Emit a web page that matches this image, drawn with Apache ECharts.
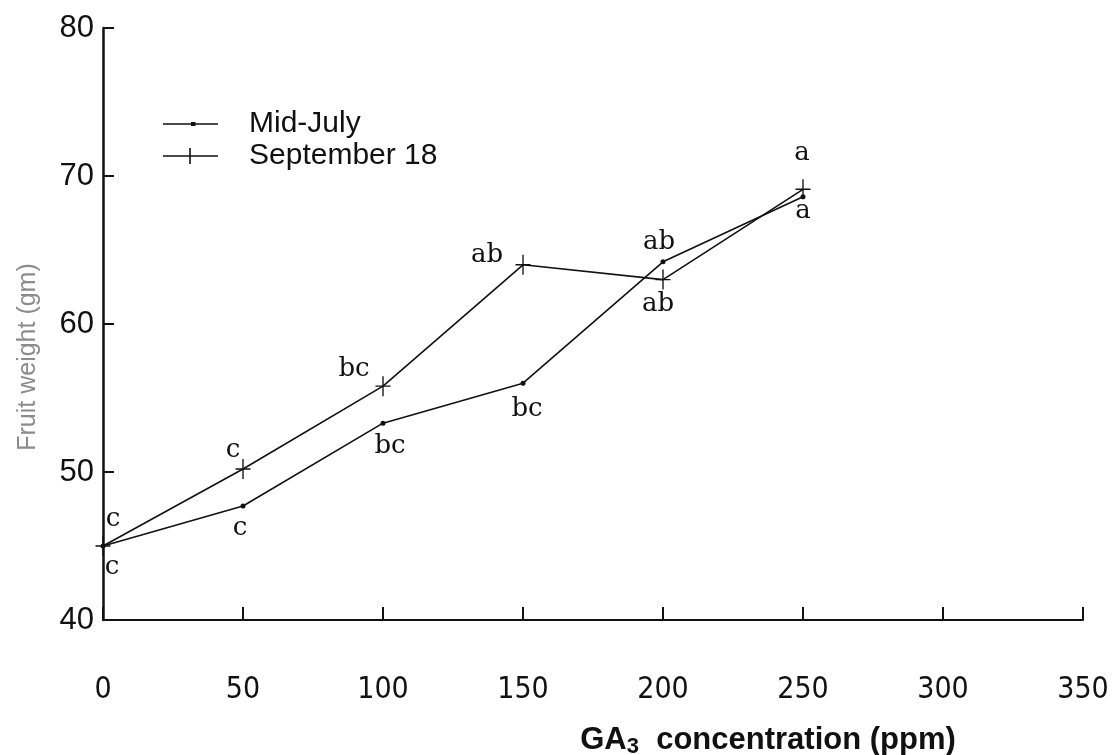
<!DOCTYPE html>
<html>
<head>
<meta charset="utf-8">
<script src="https://cdn.jsdelivr.net/npm/echarts@6/dist/echarts.min.js"></script>
<style>
html,body{margin:0;padding:0;background:#fff;}
#chart{width:1113px;height:755px;}
</style>
</head>
<body>
<div id="chart"></div>
<script>
// ---- data ----
const concentrations = [0, 50, 100, 150, 200, 250];
const midJuly = [45.0, 47.7, 53.3, 56.0, 64.2, 68.6];
const sept18 = [45.0, 50.2, 55.8, 64.0, 63.0, 69.1];
const midJulyLetters = ['c', 'c', 'bc', 'bc', 'ab', 'a'];
const sept18Letters = ['c', 'c', 'bc', 'ab', 'ab', 'a'];
const seriesNames = ['Mid-July', 'September 18'];

// ---- layout of the letter annotations (pixel offsets from each point) ----
const midJulyLetterOffsets = [[9, 21], [-3, 22], [7, 23], [4, 26], [-4, -20], [0, 15]];
const sept18LetterOffsets = [[10, -27], [-10, -19], [-29, -17], [-36, -10], [-5, 25], [-1, -36]];

const INK = '#111';
const letterStyle = {fontFamily: 'DejaVu Serif', fontSize: 26, color: INK};
const plusPath = 'path://M-0.09,-1H0.09V-0.07H1V0.07H0.09V1H-0.09V0.07H-1V-0.07H-0.09Z';

function build(values, letters, offsets) {
  return concentrations.map((c, i) => ({
    value: [c, values[i]],
    label: Object.assign({
      show: true,
      formatter: letters[i],
      position: 'inside',
      offset: offsets[i]
    }, letterStyle)
  }));
}

const chart = echarts.init(document.getElementById('chart'), null, {renderer: 'canvas'});
chart.setOption({
  animation: false,
  backgroundColor: '#fff',
  grid: {left: 103, right: 30, top: 28, bottom: 135, containLabel: false, outerBoundsMode: 'none'},
  legend: {
    orient: 'vertical',
    left: 158,
    top: 104,
    itemWidth: 55,
    itemHeight: 16,
    itemGap: 2,
    data: [
      {name: seriesNames[0], icon: 'path://M0,7.3H55V8.7H0Z M28,6H32.5V10H28Z'},
      {name: seriesNames[1], icon: 'path://M0,7.3H55V8.7H0Z M26.2,0H27.8V16H26.2Z'}
    ],
    itemStyle: {color: INK},
    textStyle: {fontFamily: 'Liberation Sans', fontSize: 30, color: INK, padding: [0, 0, 0, 26]}
  },
  xAxis: {
    type: 'value',
    min: 0, max: 350, interval: 50,
    name: '{b|GA}{s|3}{b|  concentration (ppm)}',
    nameLocation: 'middle',
    nameGap: 103,
    nameTextStyle: {
      padding: [0, 0, 0, 350],
      rich: {
        b: {fontFamily: 'Liberation Sans', fontWeight: 'bold', fontSize: 31, color: INK},
        s: {fontFamily: 'Liberation Sans', fontWeight: 'bold', fontSize: 22, color: INK, padding: [13, 0, 0, 0]}
      }
    },
    axisLine: {lineStyle: {color: INK, width: 2}},
    axisTick: {inside: true, length: 13, lineStyle: {color: INK, width: 2}},
    axisLabel: {fontFamily: 'Liberation Sans Narrow, DejaVu Sans Condensed, sans-serif', fontSize: 30, color: INK, margin: 55},
    splitLine: {show: false}
  },
  yAxis: {
    type: 'value',
    min: 40, max: 80, interval: 10,
    name: 'Fruit weight (gm)',
    nameLocation: 'middle',
    nameGap: 62,
    nameTextStyle: {fontFamily: 'Liberation Sans', fontSize: 25, color: '#8c8c8c', padding: [0, 66, 0, 0]},
    axisLine: {lineStyle: {color: INK, width: 2.5}},
    axisTick: {inside: true, length: 11, lineStyle: {color: INK, width: 2}},
    axisLabel: {fontFamily: 'Liberation Sans', fontSize: 31, color: INK, margin: 9},
    splitLine: {show: false}
  },
  series: [
    {
      name: seriesNames[0],
      type: 'line',
      data: build(midJuly, midJulyLetters, midJulyLetterOffsets),
      symbol: 'circle',
      symbolSize: 5,
      lineStyle: {color: INK, width: 1.6},
      itemStyle: {color: INK},
      z: 3
    },
    {
      name: seriesNames[1],
      type: 'line',
      data: build(sept18, sept18Letters, sept18LetterOffsets),
      symbol: plusPath,
      symbolSize: [15, 20],
      symbolKeepAspect: false,
      lineStyle: {color: INK, width: 1.6},
      itemStyle: {color: INK},
      z: 4
    }
  ]
});
</script>
</body>
</html>
